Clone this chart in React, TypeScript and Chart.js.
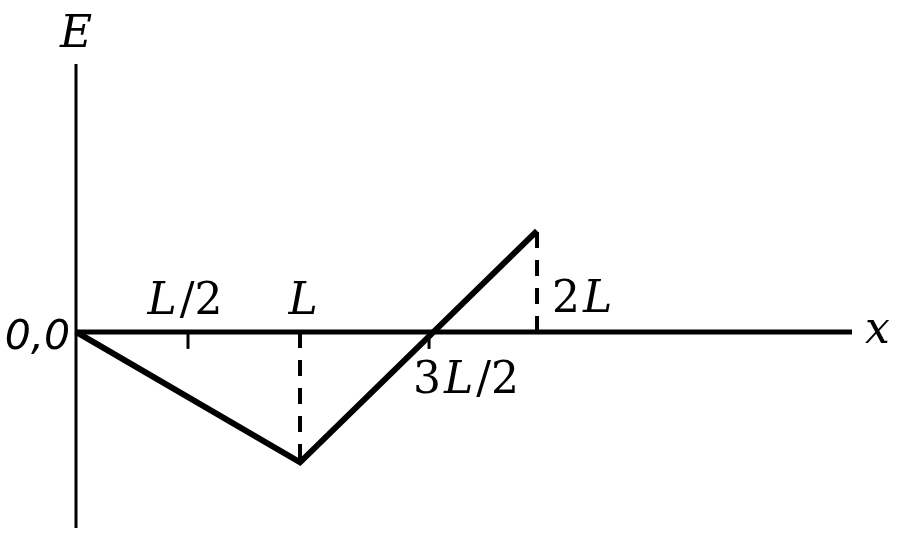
import React, { useEffect, useRef } from "react";
import { Chart, registerables } from "chart.js";

Chart.register(...registerables);

// ---- data (x in units of L, E in arbitrary units) ----
const X_RANGE = [0, 3.464];
const Y_RANGE = [-1.94, 2.65];
const CURVE_X = [0, 1, 2.058];
const CURVE_E = [0, -1.29, 1];
const GUIDE_X = [1, 2.058];
const GUIDE_E = [-1.29, 1];
const TICK_X = [0.5, 1.576];
const TICK_LABELS = ["L/2", "L", "3L/2", "2L"];
const TICK_LABEL_X = [0.5, 1, 1.576, 2.058];
const AXIS_X_LABEL = "x";
const AXIS_Y_LABEL = "E";
const ORIGIN_LABEL = "0,0";

// placement styling for tick labels (pixel offsets)
const LABEL_STYLE = [
  { align: "center", dx: -3, dy: -18 },
  { align: "center", dx: 3, dy: -18 },
  { align: "center", dx: 37, dy: 61 },
  { align: "left", dx: 15, dy: -20 },
];

const SERIF = "DejaVu Serif";
const SIZE = 44;

function segments(text: string) {
  const out: { t: string; it: boolean }[] = [];
  for (const ch of text) {
    const it = /[A-Za-z]/.test(ch);
    const last = out[out.length - 1];
    if (last && last.it === it) last.t += ch;
    else out.push({ t: ch, it });
  }
  return out;
}

function drawMath(
  ctx: CanvasRenderingContext2D,
  text: string,
  x: number,
  y: number,
  align: string
) {
  const segs = segments(text);
  const gap = 3;
  const widths = segs.map((s) => {
    ctx.font = `${s.it ? "italic " : ""}${SIZE}px "${SERIF}"`;
    return ctx.measureText(s.t).width;
  });
  const total = widths.reduce((a, b) => a + b, 0) + gap * (segs.length - 1);
  let cx = align === "center" ? x - total / 2 : align === "right" ? x - total : x;
  ctx.textAlign = "left";
  ctx.textBaseline = "alphabetic";
  segs.forEach((s, i) => {
    ctx.font = `${s.it ? "italic " : ""}${SIZE}px "${SERIF}"`;
    ctx.fillText(s.t, cx, y);
    cx += widths[i] + gap;
  });
}

const axesPlugin = {
  id: "physAxes",
  beforeDatasetsDraw(chart: any) {
    const { ctx, scales } = chart;
    const xs = scales.x;
    const ys = scales.y;
    const x0 = xs.getPixelForValue(0);
    const y0 = ys.getPixelForValue(0);
    const top = ys.getPixelForValue(Y_RANGE[1]);
    const bottom = ys.getPixelForValue(Y_RANGE[0]);
    const right = xs.getPixelForValue(X_RANGE[1]);
    ctx.save();
    ctx.strokeStyle = "#000";
    ctx.lineCap = "butt";
    // y axis
    ctx.lineWidth = 3;
    ctx.beginPath();
    ctx.moveTo(x0, top);
    ctx.lineTo(x0, bottom);
    ctx.stroke();
    // x axis
    ctx.lineWidth = 5;
    ctx.beginPath();
    ctx.moveTo(x0, y0);
    ctx.lineTo(right, y0);
    ctx.stroke();
    // ticks
    ctx.lineWidth = 3;
    TICK_X.forEach((v) => {
      const px = xs.getPixelForValue(v);
      ctx.beginPath();
      ctx.moveTo(px, y0);
      ctx.lineTo(px, y0 + 17);
      ctx.stroke();
    });
    ctx.restore();
  },
  afterDraw(chart: any) {
    const { ctx, scales } = chart;
    const xs = scales.x;
    const ys = scales.y;
    const x0 = xs.getPixelForValue(0);
    const y0 = ys.getPixelForValue(0);
    const top = ys.getPixelForValue(Y_RANGE[1]);
    const right = xs.getPixelForValue(X_RANGE[1]);
    ctx.save();
    ctx.fillStyle = "#000";
    TICK_LABELS.forEach((lab, i) => {
      const st = LABEL_STYLE[i];
      drawMath(ctx, lab, xs.getPixelForValue(TICK_LABEL_X[i]) + st.dx, y0 + st.dy, st.align);
    });
    drawMath(ctx, AXIS_Y_LABEL, x0, top - 17, "center");
    drawMath(ctx, AXIS_X_LABEL, right + 13, y0 + 11, "left");
    ctx.font = `italic 41px "DejaVu Sans"`;
    ctx.textAlign = "right";
    ctx.textBaseline = "alphabetic";
    ctx.fillText(ORIGIN_LABEL, x0 - 6, y0 + 17);
    ctx.restore();
  },
};

export default function App() {
  const ref = useRef<HTMLCanvasElement>(null);
  useEffect(() => {
    document.body.style.margin = "0";
    document.body.style.background = "#fff";
    const canvas = ref.current!;
    const curve = CURVE_X.map((x, i) => ({ x, y: CURVE_E[i] }));
    const guides = GUIDE_X.map((x, i) => ({
      label: `guide${i}`,
      data: [
        { x, y: 0 },
        { x, y: GUIDE_E[i] },
      ],
      borderColor: "#000",
      borderWidth: 4,
      borderDash: [16, 12],
      pointRadius: 0,
      fill: false,
      clip: false as any,
    }));
    const chart = new Chart(canvas, {
      type: "line",
      data: {
        datasets: [
          {
            label: "E",
            data: curve,
            borderColor: "#000",
            borderWidth: 6,
            borderJoinStyle: "miter",
            pointRadius: 0,
            tension: 0,
            fill: false,
            clip: false as any,
          },
          ...guides,
        ],
      },
      options: {
        animation: false,
        responsive: false,
        devicePixelRatio: 1,
        layout: { padding: { left: 76, right: 48, top: 64, bottom: 15 } },
        plugins: { legend: { display: false }, tooltip: { enabled: false } },
        scales: {
          x: { type: "linear", min: X_RANGE[0], max: X_RANGE[1], display: false },
          y: { type: "linear", min: Y_RANGE[0], max: Y_RANGE[1], display: false },
        },
      },
      plugins: [axesPlugin],
    });
    return () => chart.destroy();
  }, []);
  return <canvas ref={ref} width={900} height={543} style={{ display: "block" }} />;
}
